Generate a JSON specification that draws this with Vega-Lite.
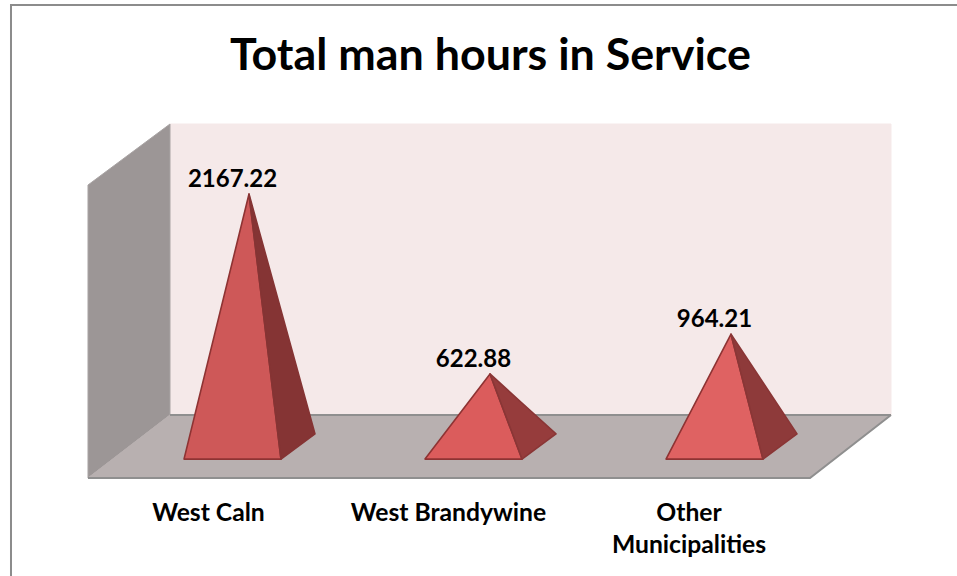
{"$schema":"https://vega.github.io/schema/vega-lite/v6.json","width":957,"height":576,"autosize":"none","padding":0,"background":"white","title":{"text":"Total man hours in Service","font":"Lato","fontWeight":"bold","fontSize":44.8,"color":"#000000","anchor":"middle","baseline":"alphabetic","offset":-115,"dx":12},"config":{"view":{"stroke":null}},"datasets":{"surfaces":[
{"shape":"Back wall","x":-0.2593,"y":2768.3,"y2":270.4},{"shape":"Back wall","x":2.7324,"y":2768.3,"y2":270.4},
{"shape":"Side wall","x":-0.5996,"y":2244.7,"y2":-270.4},{"shape":"Side wall","x":-0.2593,"y":2768.3,"y2":270.4},
{"shape":"Floor","x":-0.5996,"y":-270.4,"y2":-270.4},{"shape":"Floor","x":-0.2593,"y":270.4,"y2":-270.4},{"shape":"Floor","x":2.3963,"y":270.4,"y2":-270.4},{"shape":"Floor","x":2.7324,"y":270.4,"y2":270.4}
],"pyramids":[
{"shape":"West Caln front","x":-0.2012,"y":-108,"y2":-108},{"shape":"West Caln front","x":0.0685,"y":2167.22,"y2":-108},{"shape":"West Caln front","x":0.2012,"y":-108,"y2":-108},
{"shape":"West Caln side","x":0.0685,"y":2167.22,"y2":2167.22},{"shape":"West Caln side","x":0.2012,"y":1169.1,"y2":-108},{"shape":"West Caln side","x":0.3423,"y":108,"y2":108},
{"shape":"West Brandywine front","x":0.7988,"y":-108,"y2":-108},{"shape":"West Brandywine front","x":1.0685,"y":622.88,"y2":-108},{"shape":"West Brandywine front","x":1.2012,"y":-108,"y2":-108},
{"shape":"West Brandywine side","x":1.0685,"y":622.88,"y2":622.88},{"shape":"West Brandywine side","x":1.2012,"y":373.3,"y2":-108},{"shape":"West Brandywine side","x":1.3423,"y":108,"y2":108},
{"shape":"Other front","x":1.7988,"y":-108,"y2":-108},{"shape":"Other front","x":2.0685,"y":964.21,"y2":-108},{"shape":"Other front","x":2.2012,"y":-108,"y2":-108},
{"shape":"Other side","x":2.0685,"y":964.21,"y2":964.21},{"shape":"Other side","x":2.2012,"y":549.2,"y2":-108},{"shape":"Other side","x":2.3423,"y":108,"y2":108}
],"edges":[
{"edge":"front","n":1,"x":-0.5996,"y":-270.4},{"edge":"front","n":2,"x":2.3963,"y":-270.4},{"edge":"front","n":3,"x":2.7324,"y":270.4},
{"edge":"back","n":1,"x":-0.2593,"y":270.4},{"edge":"back","n":2,"x":2.7324,"y":270.4}
],"frame":[
{"n":1,"x":-0.9191,"y":-1111.6},{"n":2,"x":-0.9191,"y":3790},{"n":3,"x":3.0062,"y":3790}
],"values":[
{"category":"West Caln","pos":0,"value":2167.22,"label":"2167.22"},
{"category":"West Brandywine","pos":1,"value":622.88,"label":"622.88"},
{"category":"Other\nMunicipalities","pos":2,"value":964.21,"label":"964.21"}
],"categories":[
{"category":"West Caln","x":-0.0996,"y":-640},
{"category":"West Brandywine","x":0.8963,"y":-640},
{"category":"Other\nMunicipalities","x":1.8942,"y":-640}
]},
"layer":[
{"data":{"name":"frame"},"mark":{"type":"line","color":"#8C8C8C","strokeWidth":2,"interpolate":"linear"},"encoding":{"x":{"field":"x","type":"quantitative","scale":{"domain":[-0.9647,3.0062],"nice":false,"zero":false},"axis":null},"y":{"field":"y","type":"quantitative","scale":{"domain":[-1111.6,3832.8],"nice":false,"zero":false},"axis":null},"order":{"field":"n"}}},
{"data":{"name":"surfaces"},"mark":{"type":"area","interpolate":"linear","strokeWidth":1},"encoding":{"x":{"field":"x","type":"quantitative"},"y":{"field":"y","type":"quantitative"},"y2":{"field":"y2"},"fill":{"field":"shape","type":"nominal","sort":null,"legend":null,"scale":{"domain":["Back wall","Side wall","Floor"],"range":["#F5E9E9","#9C9696","#B8B0B0"]}},"stroke":{"field":"shape","type":"nominal","sort":null,"legend":null,"scale":{"domain":["Back wall","Side wall","Floor"],"range":["#F5E9E9","#A9A4A4","#B8B0B0"]}},"detail":{"field":"shape"}}},
{"data":{"name":"edges"},"mark":{"type":"line","color":"#8F8F8F","strokeWidth":2,"interpolate":"linear"},"encoding":{"x":{"field":"x","type":"quantitative"},"y":{"field":"y","type":"quantitative"},"detail":{"field":"edge"},"order":{"field":"n"}}},
{"data":{"name":"pyramids"},"mark":{"type":"area","interpolate":"linear","strokeWidth":1.6,"strokeJoin":"round"},"encoding":{"x":{"field":"x","type":"quantitative"},"y":{"field":"y","type":"quantitative"},"y2":{"field":"y2"},"fill":{"field":"shape","type":"nominal","sort":null,"legend":null,"scale":{"domain":["West Caln front","West Caln side","West Brandywine front","West Brandywine side","Other front","Other side"],"range":["#CE5858","#853434","#DB5C5C","#963C3C","#DF6262","#8E3A3A"]}},"stroke":{"field":"shape","type":"nominal","sort":null,"legend":null,"scale":{"domain":["West Caln front","West Caln side","West Brandywine front","West Brandywine side","Other front","Other side"],"range":["#8E3333","#853434","#8E3333","#8A3636","#8E3333","#8A3636"]}},"detail":{"field":"shape"}}},
{"data":{"name":"values"},"mark":{"type":"text","font":"Lato","fontWeight":"bold","fontSize":24,"color":"#000000","align":"center","baseline":"alphabetic","dy":-7},"encoding":{"x":{"field":"pos","type":"quantitative"},"y":{"field":"value","type":"quantitative"},"text":{"field":"label"}}},
{"data":{"name":"categories"},"mark":{"type":"text","font":"Lato","fontWeight":"bold","fontSize":24.7,"color":"#000000","align":"center","baseline":"alphabetic","lineBreak":"\n","lineHeight":32},"encoding":{"x":{"field":"x","type":"quantitative"},"y":{"field":"y","type":"quantitative"},"text":{"field":"category"}}}
],"resolve":{"scale":{"fill":"independent","stroke":"independent"}}}
